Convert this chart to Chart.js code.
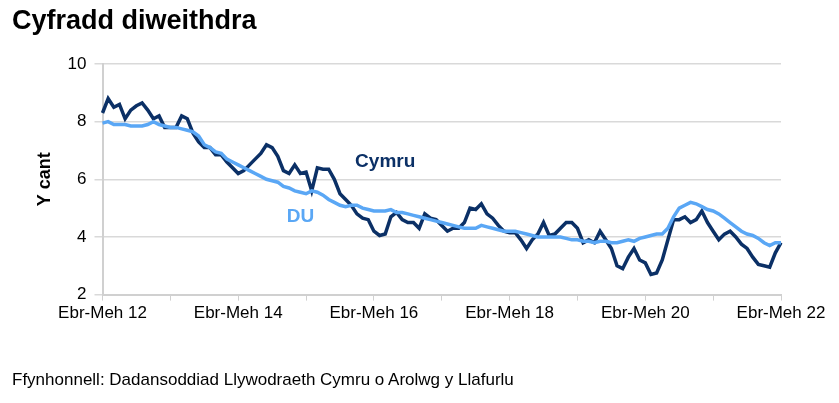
<!DOCTYPE html>
<html><head><meta charset="utf-8">
<script src="https://cdn.jsdelivr.net/npm/chart.js@4"></script>
<style>
html,body{margin:0;padding:0;background:#fff;font-family:"Liberation Sans",Arial,sans-serif}
#wrap{position:relative;width:839px;height:403px}
#title{position:absolute;left:12px;top:5px;font-size:27px;font-weight:bold;color:#000}
#src{position:absolute;left:12px;top:370px;font-size:17px;color:#000}
canvas{position:absolute;left:0;top:0}
</style></head><body>
<div id="wrap">
<canvas id="c" width="839" height="403"></canvas>
<div id="title">Cyfradd diweithdra</div>
<div id="src">Ffynhonnell: Dadansoddiad Llywodraeth Cymru o Arolwg y Llafurlu</div>
</div>
<script>
const years = ['12','13','14','15','16','17','18','19','20','21','22'];
const cymru = [
8.3,8.8,8.5,8.6,8.1,8.4,8.55,8.65,8.4,8.1,8.2,7.8,
7.8,7.8,8.2,8.1,7.6,7.3,7.1,7.1,6.85,6.85,6.6,6.4,
6.2,6.3,6.5,6.7,6.9,7.2,7.1,6.8,6.3,6.2,6.5,6.2,
6.25,5.6,6.4,6.35,6.35,6.0,5.5,5.3,5.1,4.8,4.65,4.6,
4.2,4.05,4.1,4.7,4.85,4.6,4.5,4.5,4.3,4.8,4.65,4.6,
4.4,4.2,4.3,4.3,4.5,5.0,4.95,5.15,4.8,4.65,4.4,4.2,
4.15,4.15,3.9,3.6,3.9,4.1,4.5,4.05,4.1,4.3,4.5,4.5,
4.3,3.8,3.9,3.8,4.2,3.9,3.6,3.0,2.9,3.3,3.6,3.2,
3.1,2.7,2.75,3.2,3.9,4.6,4.6,4.7,4.5,4.6,4.9,4.5,
4.2,3.9,4.1,4.2,4.0,3.75,3.6,3.3,3.05,3.0,2.95,3.45,
3.8];
const du = [
7.95,8.0,7.9,7.9,7.9,7.85,7.85,7.85,7.9,8.0,7.9,7.85,
7.8,7.8,7.75,7.7,7.65,7.5,7.2,7.1,6.95,6.9,6.7,6.6,
6.5,6.4,6.3,6.2,6.1,6.0,5.95,5.9,5.75,5.7,5.6,5.55,
5.5,5.6,5.55,5.45,5.3,5.2,5.1,5.05,5.1,5.1,5.0,4.95,
4.9,4.9,4.9,4.95,4.85,4.85,4.8,4.75,4.7,4.65,4.6,4.55,
4.5,4.45,4.4,4.35,4.3,4.3,4.3,4.4,4.35,4.3,4.25,4.2,
4.2,4.2,4.15,4.1,4.05,4.0,4.0,4.0,4.0,4.0,3.95,3.9,
3.9,3.85,3.85,3.8,3.85,3.85,3.8,3.8,3.85,3.9,3.85,3.95,
4.0,4.05,4.1,4.1,4.3,4.7,5.0,5.1,5.2,5.15,5.05,4.95,
4.9,4.8,4.65,4.5,4.35,4.2,4.1,4.05,3.95,3.8,3.7,3.8,
3.8];
const months = ['Ebr-Meh','Mai-Gor','Meh-Awst','Gor-Medi','Awst-Hyd','Medi-Tach','Hyd-Rhag','Tach-Ion','Rhag-Chwe','Ion-Maw','Chwe-Ebr','Maw-Mai'];
const labels = [];
for (let i=0;i<cymru.length;i++){ labels.push(months[i%12]+' '+String(parseInt(years[0])+Math.floor(i/12)).padStart(2,'0')); }
const notes = [{text:'Cymru',x:50,y:6.6,color:'#0b3066'},{text:'DU',x:35,y:4.7,color:'#5aa7f5'}];
const CY='#0b3066', DUc='#5aa7f5';
const notePlugin={id:'notes',afterDatasetsDraw(ch){const c=ch.ctx;c.save();c.font='bold 19px "Liberation Sans",Arial';c.textAlign='center';c.textBaseline='middle';
 for(const n of notes){c.fillStyle=n.color;c.fillText(n.text,ch.scales.x.getPixelForValue(n.x),ch.scales.y.getPixelForValue(n.y));}c.restore();}};
new Chart(document.getElementById('c'),{type:'line',
data:{labels,datasets:[
 {label:'DU',data:du,borderColor:DUc,borderWidth:3.5,pointRadius:0,tension:0},
 {label:'Cymru',data:cymru,borderColor:CY,borderWidth:3.5,pointRadius:0,tension:0}]},
options:{responsive:false,animation:false,events:[],
 layout:{padding:{left:30,right:58,top:64,bottom:76}},
 plugins:{legend:{display:false},tooltip:{enabled:false}},
 scales:{
  x:{offset:false,grid:{drawOnChartArea:false,color:'#d0d0d0',tickLength:6},border:{color:'#d0d0d0',width:2},
     ticks:{autoSkip:false,maxRotation:0,color:'#000',font:{size:17,family:'"Liberation Sans",Arial'},
       callback:(v,i)=> i%12!==0?null:(i%24===0?labels[i]:'')}},
  y:{min:2,max:10,grid:{color:'#d9d9d9',lineWidth:1.5},border:{display:true,color:'#d0d0d0',width:2},
     ticks:{stepSize:2,color:'#000',padding:8,font:{size:17,family:'"Liberation Sans",Arial'}},
     title:{display:true,text:'Y cant',color:'#000',font:{size:18,weight:'bold',family:'"Liberation Sans",Arial'}}}
 }},plugins:[notePlugin]});
</script></body></html>
